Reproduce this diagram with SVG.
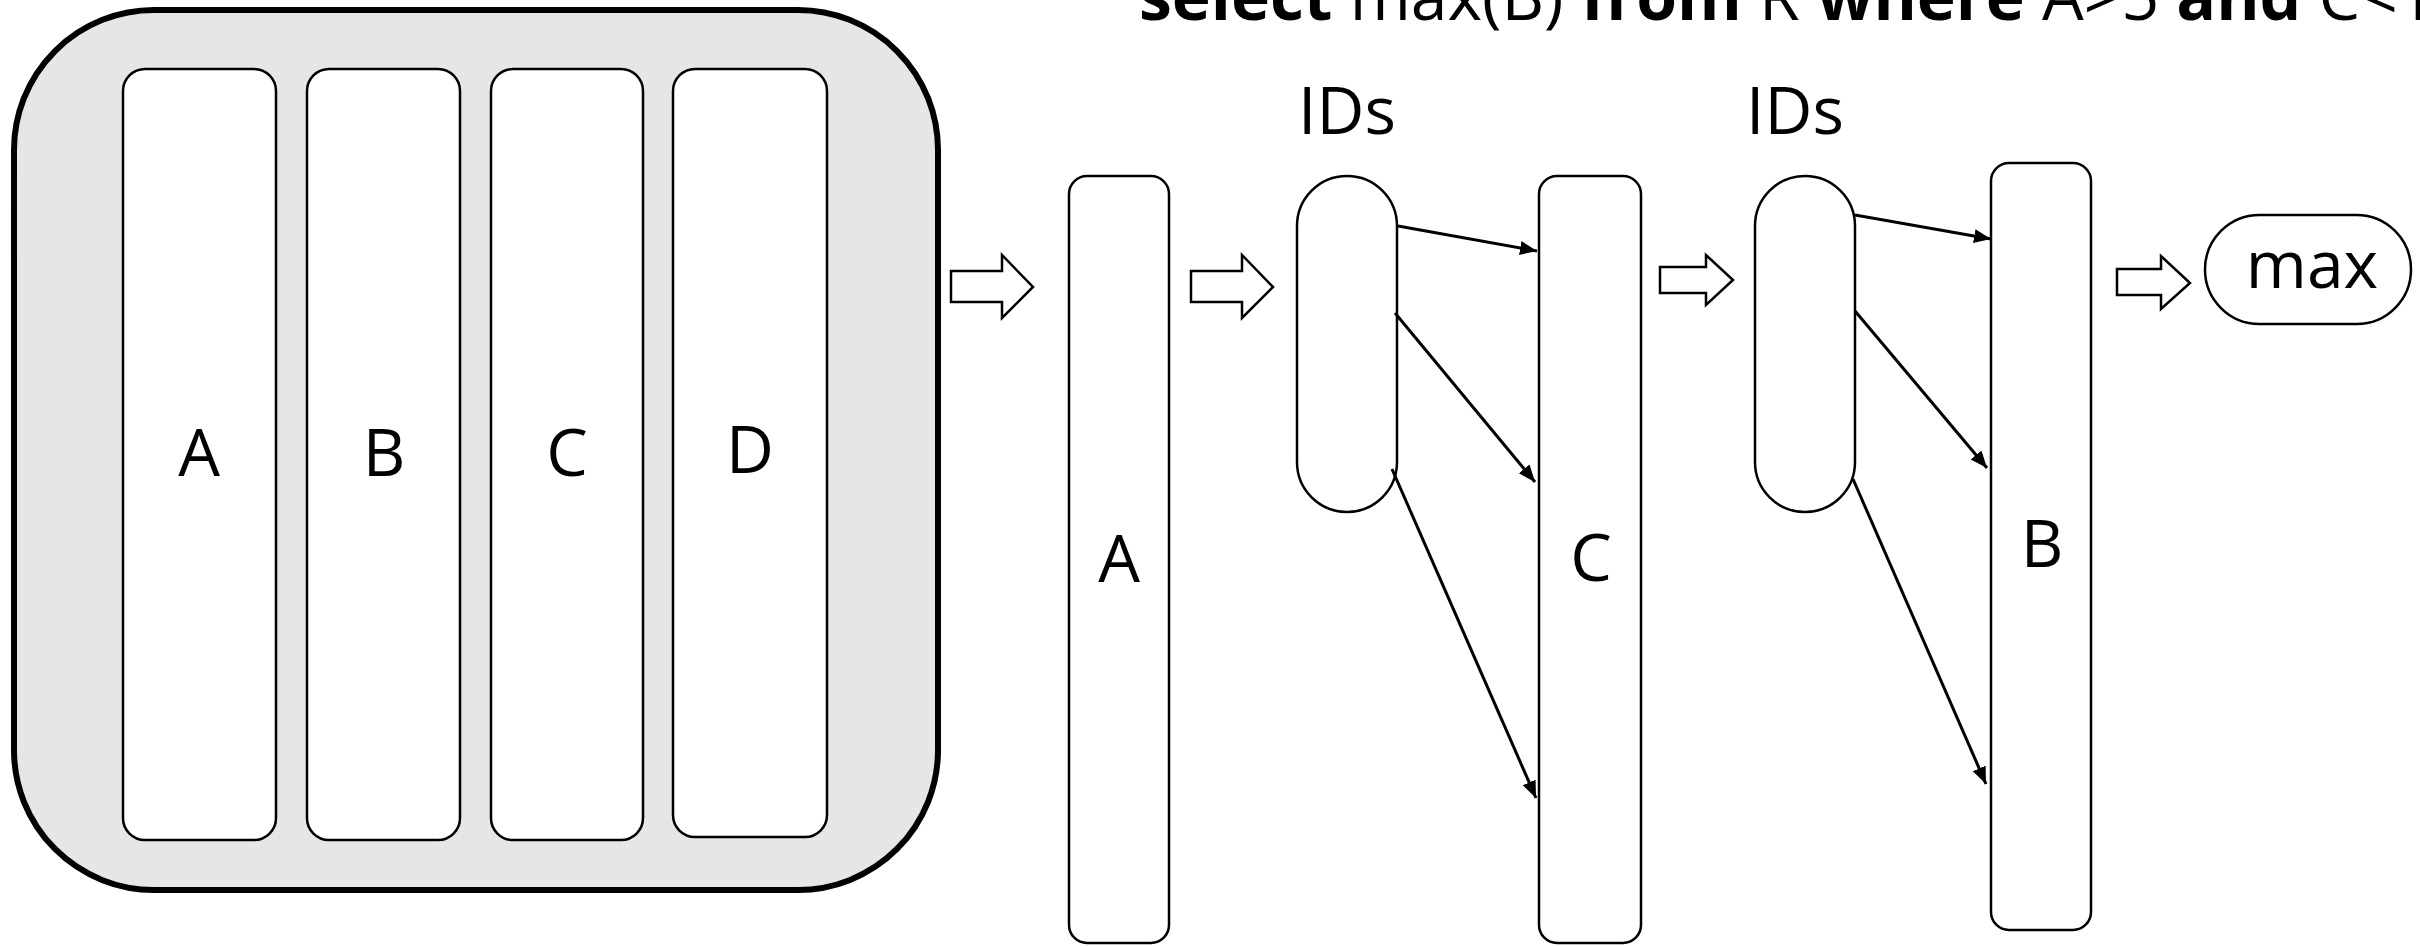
<svg xmlns="http://www.w3.org/2000/svg" width="2420" height="946" viewBox="0 0 2420 946">
<style>
  .lbl { font-family: "Open Sans", "Noto Sans", "Liberation Sans", sans-serif; font-size: 66px; fill: #000; }
  .col { fill: #fff; stroke: #000; stroke-width: 2.5; }
  .hollow { fill: #fff; stroke: #000; stroke-width: 2.5; stroke-linejoin: miter; }
  .conn { stroke: #000; stroke-width: 3; fill: none; marker-end: url(#ah); }
  .b { font-weight: bold; }
</style>
<defs>
  <marker id="ah" markerUnits="userSpaceOnUse" markerWidth="18" markerHeight="16" refX="17" refY="7" orient="auto">
    <path d="M0,0 L17,7 L0,14 z" fill="#000"/>
  </marker>
</defs>
<rect width="2420" height="946" fill="#fff"/>

<g id="title">
  <text class="lbl" x="1139" y="20"><tspan class="b">select</tspan> max(B) <tspan class="b">from</tspan> R <tspan class="b">where</tspan> A&gt;5 <tspan class="b">and</tspan> C&lt;10</text>
</g>

<g id="table">
  <rect x="14" y="10" width="924" height="880" rx="140" ry="140" fill="#e6e6e6" stroke="#000" stroke-width="6"/>
  <g id="tA"><rect class="col" x="123" y="69" width="153" height="771" rx="22"/><text class="lbl" x="199" y="476" text-anchor="middle">A</text></g>
  <g id="tB"><rect class="col" x="307" y="69" width="153" height="771" rx="22"/><text class="lbl" x="384" y="476" text-anchor="middle">B</text></g>
  <g id="tC"><rect class="col" x="491" y="69" width="152" height="771" rx="22"/><text class="lbl" x="567" y="476" text-anchor="middle">C</text></g>
  <g id="tD"><rect class="col" x="673" y="69" width="154" height="768" rx="22"/><text class="lbl" x="750" y="473" text-anchor="middle">D</text></g>
</g>

<g id="colA">
  <rect class="col" x="1069" y="176" width="100" height="767" rx="18"/>
  <text class="lbl" x="1119" y="582" text-anchor="middle">A</text>
</g>

<g id="ids1">
  <rect class="col" x="1297" y="176" width="100" height="336" rx="50" ry="50"/>
  <text class="lbl" x="1347" y="134" text-anchor="middle">IDs</text>
</g>

<g id="colC">
  <rect class="col" x="1539" y="176" width="102" height="767" rx="18"/>
  <text class="lbl" x="1591" y="581" text-anchor="middle">C</text>
</g>

<g id="ids2">
  <rect class="col" x="1755" y="176" width="100" height="336" rx="50" ry="50"/>
  <text class="lbl" x="1795" y="134" text-anchor="middle">IDs</text>
</g>

<g id="colB">
  <rect class="col" x="1991" y="163" width="100" height="767" rx="18"/>
  <text class="lbl" x="2042" y="567" text-anchor="middle">B</text>
</g>

<g id="max">
  <rect class="col" x="2205" y="215" width="206" height="109" rx="54.5" ry="54.5"/>
  <text class="lbl" x="2312" y="288" text-anchor="middle">max</text>
</g>

<g id="connectors">
  <polygon class="hollow" points="951,271 1002,271 1002,255 1033,287 1002,318 1002,302 951,302"/>
  <polygon class="hollow" points="1191,271 1242,271 1242,255 1273,287 1242,318 1242,302 1191,302"/>
  <polygon class="hollow" points="1660,267 1706,267 1706,255 1733,280 1706,305 1706,293 1660,293"/>
  <polygon class="hollow" points="2117,269 2161,269 2161,256 2190,283 2161,309 2161,295 2117,295"/>
  <line class="conn" x1="1398" y1="226" x2="1537" y2="251"/>
  <line class="conn" x1="1395" y1="313" x2="1535" y2="482"/>
  <line class="conn" x1="1392" y1="469" x2="1536" y2="798"/>
  <line class="conn" x1="1855" y1="215" x2="1991" y2="239"/>
  <line class="conn" x1="1855" y1="311" x2="1987" y2="468"/>
  <line class="conn" x1="1853" y1="479" x2="1986" y2="784"/>
</g>
</svg>
